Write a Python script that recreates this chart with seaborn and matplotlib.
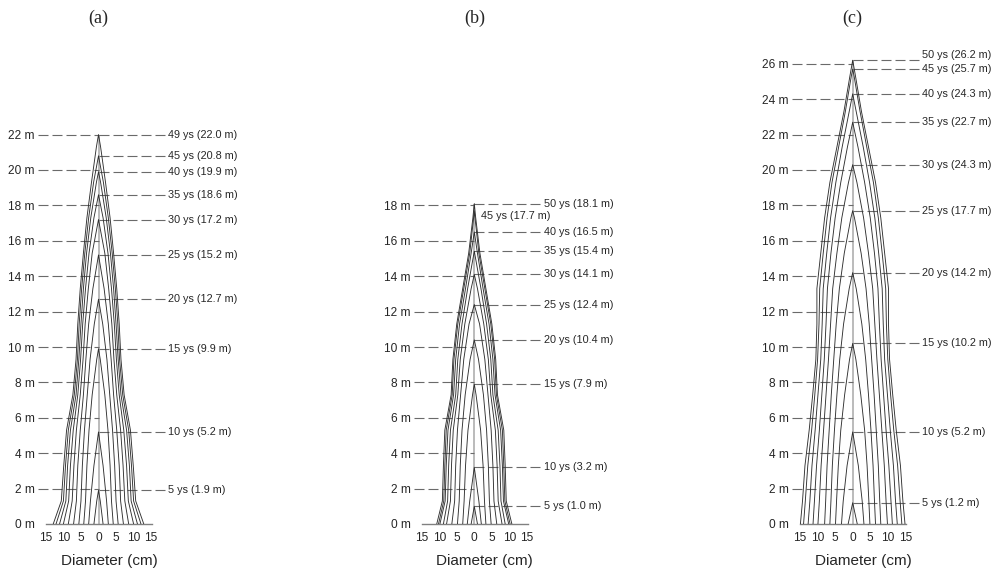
import numpy as np
import pandas as pd
import matplotlib
matplotlib.use("Agg")
import matplotlib.pyplot as plt
import seaborn as sns

# ---------------- data ----------------
# section heights (m) of the stem analysis discs
SECTIONS = [0, 1.3, 3.3, 5.3, 7.3, 9.3, 11.3, 13.3, 15.3, 17.3, 19.3, 21.3, 23.3, 25.3]

# panel (a)
a_ages = [49, 45, 40, 35, 30, 25, 20, 15, 10, 5]
a_heights = [22.0, 20.8, 19.9, 18.6, 17.2, 15.2, 12.7, 9.9, 5.2, 1.9]
a_labels = ["49 ys (22.0 m)", "45 ys (20.8 m)", "40 ys (19.9 m)", "35 ys (18.6 m)",
            "30 ys (17.2 m)", "25 ys (15.2 m)", "20 ys (12.7 m)", "15 ys (9.9 m)",
            "10 ys (5.2 m)", "5 ys (1.9 m)"]
a_widths = [
    [12.9, 10.6, 9.9, 9.1, 7.3, 6.4, 5.9, 5.2, 4.3, 3.3, 2.0, 0.6],
    [12.1, 10.0, 9.4, 8.6, 6.9, 6.0, 5.5, 4.8, 3.9, 2.8, 1.4],
    [11.1, 9.3, 8.8, 8.0, 6.4, 5.6, 5.0, 4.3, 3.4, 2.2, 0.6],
    [10.0, 8.5, 8.0, 7.2, 5.9, 5.1, 4.5, 3.7, 2.7, 1.3],
    [8.6, 7.5, 7.0, 6.3, 5.2, 4.4, 3.8, 2.9, 1.8],
    [7.1, 6.3, 5.9, 5.2, 4.3, 3.6, 2.8, 1.6],
    [5.6, 5.0, 4.6, 4.0, 3.2, 2.4, 1.2],
    [4.2, 3.7, 3.3, 2.7, 1.8, 0.5],
    [2.8, 2.3, 1.3],
    [1.3, 0.5],
]
a_ticks = list(range(0, 23, 2))

# panel (b)
b_ages = [50, 45, 40, 35, 30, 25, 20, 15, 10, 5]
b_heights = [18.1, 17.7, 16.5, 15.4, 14.1, 12.4, 10.4, 7.9, 3.2, 1.0]
b_labels = ["50 ys (18.1 m)", "45 ys (17.7 m)", "40 ys (16.5 m)", "35 ys (15.4 m)",
            "30 ys (14.1 m)", "25 ys (12.4 m)", "20 ys (10.4 m)", "15 ys (7.9 m)",
            "10 ys (3.2 m)", "5 ys (1.0 m)"]
b_widths = [
    [10.7, 9.1, 8.8, 8.4, 6.6, 6.1, 5.0, 3.3, 1.6, 0.4],
    [10.2, 8.7, 8.4, 8.0, 6.3, 5.8, 4.7, 3.0, 1.3, 0.2],
    [9.8, 8.3, 8.0, 7.5, 5.9, 5.3, 4.2, 2.5, 0.9],
    [8.8, 7.6, 7.3, 6.8, 5.3, 4.7, 3.5, 1.9, 0.1],
    [7.9, 6.8, 6.5, 6.0, 4.7, 4.0, 2.7, 0.9],
    [6.4, 5.6, 5.3, 4.8, 3.9, 3.0, 1.5],
    [4.8, 4.3, 4.0, 3.5, 2.6, 1.2],
    [3.3, 2.9, 2.5, 1.8, 0.5],
    [2.0, 1.3],
    [0.9],
]
b_ticks = list(range(0, 19, 2))

# panel (c)
c_ages = [50, 45, 40, 35, 30, 25, 20, 15, 10, 5]
c_heights = [26.2, 25.7, 24.3, 22.7, 20.3, 17.7, 14.2, 10.2, 5.2, 1.2]
c_labels = ["50 ys (26.2 m)", "45 ys (25.7 m)", "40 ys (24.3 m)", "35 ys (22.7 m)",
            "30 ys (24.3 m)", "25 ys (17.7 m)", "20 ys (14.2 m)", "15 ys (10.2 m)",
            "10 ys (5.2 m)", "5 ys (1.2 m)"]
c_widths = [
    [14.9, 14.3, 13.6, 12.4, 11.4, 10.5, 10.2, 10.2, 9.1, 8.0, 6.5, 4.5, 2.5, 0.8],
    [14.0, 13.5, 12.8, 11.7, 10.8, 10.0, 9.6, 9.4, 8.4, 7.3, 5.9, 4.0, 2.1, 0.4],
    [12.7, 12.2, 11.6, 10.7, 9.9, 9.1, 8.7, 8.4, 7.4, 6.3, 4.8, 3.0, 1.0],
    [11.3, 10.9, 10.3, 9.5, 8.8, 8.1, 7.6, 7.2, 6.2, 5.0, 3.4, 1.5],
    [9.9, 9.5, 9.0, 8.3, 7.6, 6.9, 6.3, 5.7, 4.5, 3.1, 1.2],
    [8.0, 7.7, 7.3, 6.7, 6.1, 5.4, 4.7, 3.8, 2.4, 0.5],
    [6.5, 6.2, 5.8, 5.2, 4.5, 3.7, 2.6, 1.0],
    [4.9, 4.6, 4.1, 3.4, 2.3, 0.9],
    [3.2, 2.7, 1.6],
    [1.3],
]
c_ticks = list(range(0, 27, 2))

x_ticks = [-15, -10, -5, 0, 5, 10, 15]
x_ticklabels = ["15", "10", "5", "0", "5", "10", "15"]
panel_titles = ["(a)", "(b)", "(c)"]

# ---------------- style ----------------
sns.set_style("white")
SANS = ["Liberation Sans", "DejaVu Sans"]
plt.rcParams["font.family"] = SANS

W, H = 993, 575
fig = plt.figure(figsize=(W / 100, H / 100), dpi=100)

PXX, PXY = 3.51, 17.7          # pixels per data unit (x, y)
XL, XR = -17.4, 39.0
YB, YT = 0.0, 28.0
BASE_PX = 524                  # pixel row of 0 m
centers = [98.5, 474.3, 852.7]

DASH = (0, (9, 3.6))
DCOL = "#6a6a6a"
FS_LAB = 7.8     # right-hand age labels
FS_TICK = 8.6    # axis tick labels

panels = [
    (a_ages, a_heights, a_labels, a_widths, a_ticks),
    (b_ages, b_heights, b_labels, b_widths, b_ticks),
    (c_ages, c_heights, c_labels, c_widths, c_ticks),
]
inline_labels = {(1, 1): (2.0, -0.3)}   # panel b, "45 ys" written under the top line
label_nudge = {(2, 0): 0.3}             # panel c, "50 ys" nudged up

for p, (ages, heights, labels, widths, ticks) in enumerate(panels):
    cx = centers[p]
    left_px = cx + XL * PXX
    width_px = (XR - XL) * PXX
    height_px = (YT - YB) * PXY
    ax = fig.add_axes([left_px / W, (H - BASE_PX) / H, width_px / W, height_px / H])

    # build the stem profiles (left side up to the apex, right side back down)
    rows = []
    for age, top, w in zip(ages, heights, widths):
        secs = SECTIONS[:len(w)]
        xs = [-v for v in w] + [0.0] + list(reversed(w))
        hs = list(secs) + [top] + list(reversed(secs))
        for i, (xv, hv) in enumerate(zip(xs, hs)):
            rows.append({"age": age, "order": i, "x": xv, "h": hv})
    df = pd.DataFrame(rows)

    # pith line
    ax.vlines(0, 0, max(heights), color="#a8a8a8", lw=1.1, zorder=1)

    # left guide lines (height ticks)
    for t in ticks[1:]:
        ax.plot([XL + 0.1, 0], [t, t], color=DCOL, lw=0.8, ls=DASH, zorder=2)

    # right leader lines and labels
    for i, (top, lab) in enumerate(zip(heights, labels)):
        if (p, i) in inline_labels:
            dx, dy = inline_labels[(p, i)]
            ax.text(dx, top + dy, lab, ha="left", va="center", fontsize=FS_LAB,
                    clip_on=False, zorder=5)
            continue
        ax.plot([0, 19.0], [top, top], color=DCOL, lw=0.8, ls=DASH, zorder=2)
        ax.text(19.8, top + label_nudge.get((p, i), 0.0), lab, ha="left", va="center",
                fontsize=FS_LAB, clip_on=False, zorder=5)

    sns.lineplot(data=df, x="x", y="h", units="age", estimator=None, sort=False,
                 color="#303030", lw=0.65, ax=ax, legend=False, zorder=3)

    ax.set_xlim(XL, XR)
    ax.set_ylim(YB, YT)
    ax.set_xticks(x_ticks)
    ax.set_xticklabels(x_ticklabels, fontsize=FS_TICK)
    ax.set_yticks(ticks)
    ax.set_yticklabels([f"{t} m" for t in ticks], fontsize=FS_TICK)
    ax.tick_params(axis="x", length=0, pad=6)
    ax.tick_params(axis="y", length=0, pad=2)
    for s in ["top", "right", "left"]:
        ax.spines[s].set_visible(False)
    ax.spines["bottom"].set_bounds(-15, 15.2)
    ax.spines["bottom"].set_color("#808080")
    ax.spines["bottom"].set_linewidth(1.0)
    ax.set_ylabel("")
    ax.set_xlabel("Diameter (cm)", fontsize=11)
    ax.xaxis.set_label_coords((3.0 - XL) / (XR - XL), -0.06)
    ax.text(0, 1.0 + 10 / height_px, panel_titles[p], transform=ax.get_xaxis_transform(),
            ha="center", va="center", fontsize=13,
            family=["Liberation Serif", "DejaVu Serif"], clip_on=False)
    ax.set_facecolor("white")

fig.savefig("out.png", dpi=100, facecolor="white")
